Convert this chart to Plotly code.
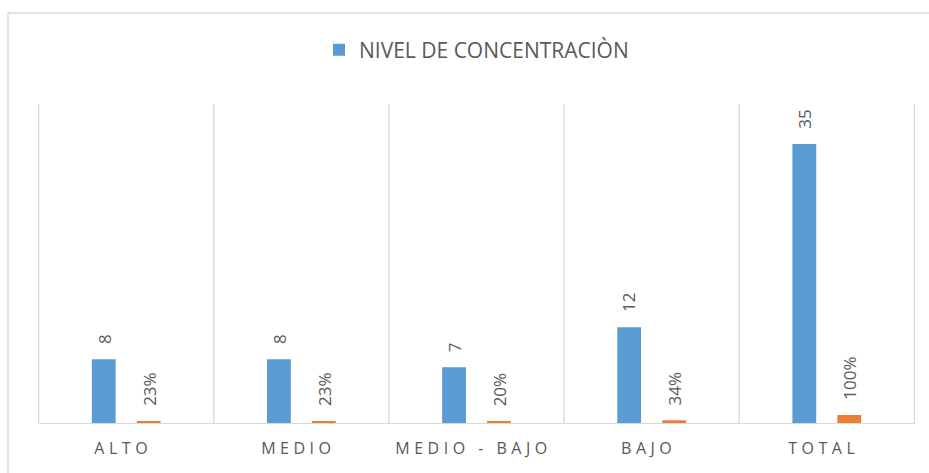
import plotly.graph_objects as go

categories = ["ALTO", "MEDIO", "MEDIO - BAJO", "BAJO", "TOTAL"]
frecuencia = [8, 8, 7, 12, 35]
porcentaje = [0.23, 0.23, 0.20, 0.34, 1.00]
legend_name = "NIVEL DE CONCENTRACIÒN"

BLUE = "#5B9BD5"
ORANGE = "#ED7D31"
TXT = "#595959"
GRID = "#D9D9D9"
FONT = "Open Sans"

BARGAP = 0.487
BARGROUPGAP = 0.47

fig = go.Figure()
fig.add_trace(go.Bar(
    x=categories, y=frecuencia, name=legend_name,
    marker=dict(color=BLUE, line=dict(width=0)),
))
fig.add_trace(go.Bar(
    x=categories, y=porcentaje, name="%", showlegend=False,
    marker=dict(color=ORANGE, line=dict(width=0)),
))

# data labels (rotated, offset above bars like Excel)
slot = (1 - BARGAP) / 2
for i, (f, p) in enumerate(zip(frecuencia, porcentaje)):
    fig.add_annotation(x=i - slot / 2, y=f, text=f"{f}", textangle=-90, showarrow=False,
                       xanchor="center", yanchor="bottom", yshift=13,
                       font=dict(family=FONT, size=17, color=TXT))
    fig.add_annotation(x=i + slot / 2, y=p, text=f"{p:.0%}", textangle=-90, showarrow=False,
                       xanchor="center", yanchor="bottom", yshift=13,
                       font=dict(family=FONT, size=17, color=TXT))

fig.update_layout(
    width=929, height=473,
    margin=dict(l=38, r=14, t=104, b=50),
    paper_bgcolor="white", plot_bgcolor="white",
    barmode="group", bargap=BARGAP, bargroupgap=BARGROUPGAP,
    font=dict(family=FONT, color=TXT),
    showlegend=True,
    legend=dict(orientation="h", x=0.5, xanchor="center", y=1.0 + 54/319, yanchor="middle",
                font=dict(family=FONT, size=21, color=TXT), itemsizing="constant",
                bgcolor="rgba(0,0,0,0)"),
)
fig.update_xaxes(
    showgrid=False, showline=True, linecolor=GRID, linewidth=1,
    ticks="", tickfont=dict(family=FONT, size=16, color=TXT),
    ticklabelstandoff=11,
)
fig.update_yaxes(
    range=[0, 40], showgrid=False, showticklabels=False, zeroline=False, showline=False,
)
# vertical category separators
n = len(categories)
for i in range(n + 1):
    fig.add_shape(type="line", xref="x", yref="paper", x0=i - 0.5, x1=i - 0.5, y0=0, y1=1,
                  line=dict(color=GRID, width=1.3), layer="below")
# chart area border
fig.add_shape(type="rect", xref="paper", yref="paper",
              x0=(8 - 38) / 877, x1=(940 - 38) / 877, y0=-60 / 319, y1=(473 - 50 - 13) / 319,
              line=dict(color=GRID, width=1.3), fillcolor="rgba(0,0,0,0)")

post = """
document.body.style.margin='0';
document.querySelectorAll('.xtick text').forEach(function(t){t.style.letterSpacing='4.5px';t.setAttribute('dx','-3');});
"""
fig.write_html("out.html", post_script=post, config={"displayModeBar": False})
